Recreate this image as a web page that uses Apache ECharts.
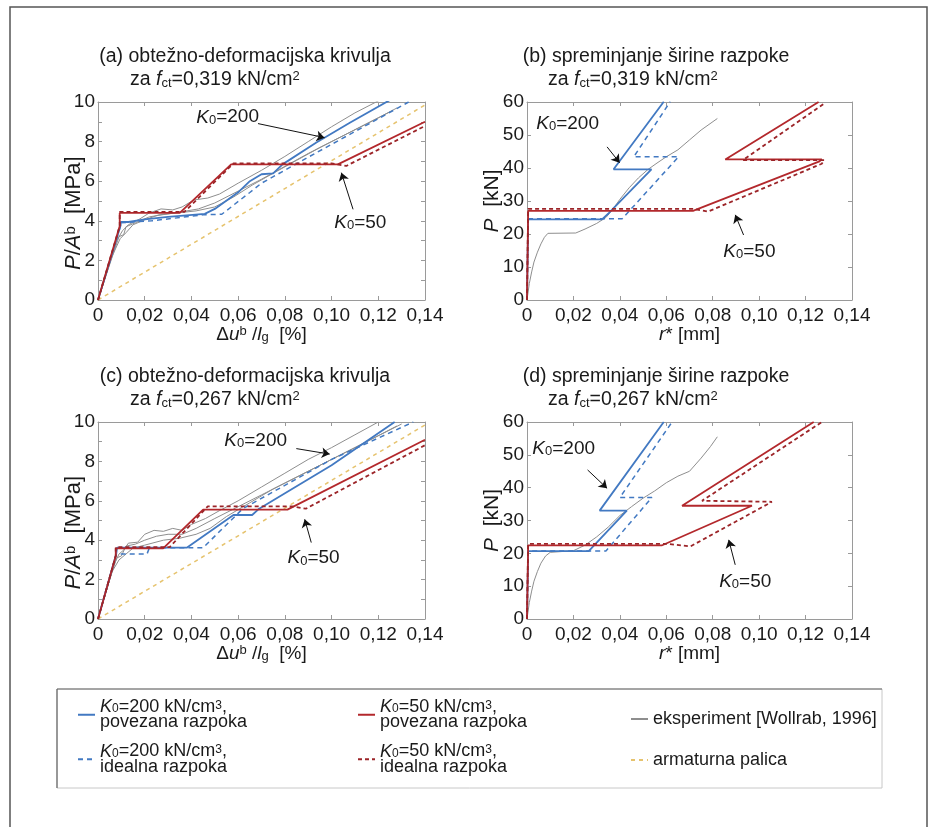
<!DOCTYPE html>
<html><head><meta charset="utf-8">
<script src="https://cdn.jsdelivr.net/npm/echarts@6/dist/echarts.min.js"></script>
<style>html,body{margin:0;padding:0;background:#fff}#c{width:933px;height:827px}</style>
</head><body><div id="c"></div>
<script>
// ---------- tick labels ----------
const xTickLabels = ['0','0,02','0,04','0,06','0,08','0,10','0,12','0,14'];
const yStressLabels = ['0','2','4','6','8','10'];
const yForceLabels = ['0','10','20','30','40','50','60'];

// ---------- panel (a): load-deformation, fct = 0,319 ----------
const a_k200_pov = [[0,0],[0.0097,3.77],[0.0097,3.94],[0.013,3.94],[0.02,4.07],[0.03,4.2],[0.0457,4.35],[0.05,4.6],[0.06,5.44],[0.065,6.0],[0.07,6.35],[0.075,6.4],[0.079,6.85],[0.0935,7.95],[0.108,8.96],[0.125,10.1]];
const a_k200_ide = [[0,0],[0.0097,3.77],[0.0097,3.9],[0.023,4.0],[0.045,4.3],[0.053,4.33],[0.065,5.43],[0.07,5.9],[0.0935,7.44],[0.133,10]];
const a_k50_pov = [[0,0],[0.0093,3.74],[0.0093,4.4],[0.035,4.4],[0.057,6.85],[0.1027,6.85],[0.14,9.0]];
const a_k50_ide = [[0,0],[0.0093,3.74],[0.0093,4.45],[0.037,4.45],[0.058,6.9],[0.1,6.9],[0.1063,6.77],[0.14,8.79]];
const a_exp1 = [[0,0],[0.004,1.5],[0.008,3.0],[0.0105,3.5],[0.013,3.8],[0.018,4.1],[0.022,4.4],[0.027,4.6],[0.032,4.55],[0.036,4.7],[0.041,5.05],[0.047,5.15],[0.052,5.35],[0.06,5.9],[0.07,6.55],[0.08,7.25],[0.09,8.0],[0.1,8.75],[0.11,9.45],[0.124,10.3]];
const a_exp2 = [[0,0],[0.005,1.8],[0.009,3.2],[0.011,3.3],[0.012,3.7],[0.016,3.9],[0.022,4.2],[0.03,4.35],[0.038,4.5],[0.043,4.6],[0.05,4.9],[0.06,5.5],[0.07,6.1],[0.08,6.75],[0.09,7.4],[0.1,8.0],[0.11,8.6],[0.12,9.2],[0.128,9.7]];
const a_exp3 = [[0,0],[0.006,2.2],[0.0095,3.1],[0.012,3.4],[0.015,3.8],[0.02,4.05],[0.026,4.3],[0.034,4.4],[0.042,4.5],[0.05,4.7],[0.058,5.2],[0.066,5.8],[0.075,6.4],[0.085,7.05],[0.095,7.7],[0.105,8.3],[0.115,8.9],[0.125,9.5]];
const a_arm = [[0,0],[0.14,9.85]];

// ---------- panel (b): crack width, fct = 0,319 ----------
const b_k200_pov = [[0,0],[0.0005,24.45],[0.0323,24.45],[0.0352,26.3],[0.0536,39.6],[0.0373,39.6],[0.0589,60.1]];
const b_k200_ide = [[0,0],[0.0005,24.6],[0.041,24.6],[0.0653,43.4],[0.046,43.4],[0.0617,60.1]];
const b_k50_pov = [[0,0],[0.0005,27],[0.0715,27],[0.126,42],[0.127,42.6],[0.0854,42.6],[0.1256,60]];
const b_k50_ide = [[0,0],[0.0005,27.6],[0.0715,27.6],[0.078,26.8],[0.127,41.3],[0.128,42.4],[0.093,42.4],[0.128,59.5]];
const b_exp = [[0,0],[0.001,5],[0.002,8.5],[0.003,11.5],[0.0045,14.5],[0.006,17],[0.0075,19],[0.009,20.2],[0.021,20.3],[0.025,21.5],[0.03,23.2],[0.034,25],[0.037,27.5],[0.04,30.5],[0.044,34],[0.048,37],[0.052,39.5],[0.056,41.5],[0.06,43.4],[0.065,45.5],[0.07,48.5],[0.075,51.5],[0.082,55]];

// ---------- panel (c): load-deformation, fct = 0,267 ----------
const c_k200_pov = [[0,0],[0.0078,3.3],[0.0082,3.62],[0.038,3.62],[0.058,5.28],[0.066,5.28],[0.069,5.6],[0.1,7.8],[0.127,10]];
const c_k200_ide = [[0,0],[0.0078,3.3],[0.021,3.3],[0.022,3.62],[0.045,3.62],[0.062,5.6],[0.1,8.1],[0.135,10]];
const c_k50_pov = [[0,0],[0.0076,3.2],[0.0076,3.59],[0.0279,3.59],[0.045,5.55],[0.0811,5.55],[0.14,9.1]];
const c_k50_ide = [[0,0],[0.0076,3.2],[0.0076,3.65],[0.0307,3.65],[0.047,5.72],[0.083,5.72],[0.089,5.6],[0.14,8.82]];
const c_exp1 = [[0,0],[0.004,1.6],[0.007,2.8],[0.009,3.3],[0.011,3.5],[0.013,3.85],[0.017,3.9],[0.02,4.3],[0.024,4.5],[0.028,4.45],[0.032,4.6],[0.036,4.5],[0.04,4.8],[0.046,5.1],[0.052,5.5],[0.06,6.0],[0.07,6.7],[0.08,7.4],[0.09,8.1],[0.1,8.7],[0.11,9.35],[0.12,10.0]];
const c_exp2 = [[0,0],[0.005,2.0],[0.008,3.1],[0.01,3.2],[0.012,3.7],[0.016,3.8],[0.02,4.0],[0.025,4.2],[0.03,4.3],[0.036,4.3],[0.042,4.6],[0.05,5.1],[0.06,5.7],[0.07,6.3],[0.08,6.9],[0.09,7.5],[0.1,8.1],[0.11,8.7],[0.12,9.3],[0.13,9.9]];
const c_exp3 = [[0,0],[0.006,2.4],[0.009,3.0],[0.012,3.3],[0.015,3.6],[0.02,3.75],[0.028,4.0],[0.035,4.1],[0.042,4.3],[0.048,4.6],[0.055,5.2],[0.065,5.9],[0.075,6.6],[0.085,7.2],[0.1,8.1],[0.115,9.0],[0.128,9.8]];
const c_arm = [[0,0],[0.14,9.85]];

// ---------- panel (d): crack width, fct = 0,267 ----------
const d_k200_pov = [[0,0],[0.0005,20.7],[0.0266,20.7],[0.029,22.5],[0.043,33],[0.0313,33],[0.0589,60]];
const d_k200_ide = [[0,0],[0.0005,20.7],[0.034,20.7],[0.0538,37],[0.040,37],[0.0625,60]];
const d_k50_pov = [[0,0],[0.0005,22.4],[0.058,22.4],[0.0969,34.5],[0.0668,34.5],[0.1235,60]];
const d_k50_ide = [[0,0],[0.0005,22.9],[0.06,22.9],[0.0704,22.1],[0.1055,35.7],[0.106,36],[0.0754,36],[0.127,60]];
const d_exp = [[0,0],[0.001,5],[0.002,8.5],[0.003,11.5],[0.0045,14.5],[0.006,17],[0.008,19.2],[0.01,20.3],[0.02,20.8],[0.025,22.5],[0.03,25],[0.035,28],[0.04,31.5],[0.045,34.2],[0.05,36.8],[0.055,39],[0.06,41.5],[0.065,43.5],[0.07,45],[0.075,49],[0.079,52.5],[0.082,55.5]];

// ---------- annotations (data coords) ----------
const ann = [
  {k200: [0.0555, 9.23], a200: [[0.0685, 8.91],[0.097, 8.2]], k50: [0.1123, 3.91], a50: [[0.1092, 4.58],[0.1042, 6.43]]},
  {k200: [0.0175, 53.5], a200: [[0.0345, 46.4],[0.0399, 41.6]], k50: [0.0958, 14.6], a50: [[0.0933, 19.7],[0.0897, 25.8]]},
  {k200: [0.0675, 9.07], a200: [[0.0849, 8.65],[0.0992, 8.37]], k50: [0.0923, 3.09], a50: [[0.0913, 3.88],[0.0885, 5.06]]},
  {k200: [0.0158, 52.0], a200: [[0.0261, 45.4],[0.0345, 39.8]], k50: [0.094, 11.4], a50: [[0.0897, 16.5],[0.0869, 24.1]]}
];

const FONT = '"Liberation Sans", Arial, Helvetica, sans-serif';
const AX = '#9a9a9a';
const TXT = '#1a1a1a';
const BLUE = '#4279c2';
const RED = '#b3282c';
const RED_D = '#9c2428';
const GRAY = '#8e8e8e';
const YEL = '#e6c36e';

const N = {
  k200p: 'K200 povezana', k200i: 'K200 idealna',
  k50p: 'K50 povezana', k50i: 'K50 idealna',
  exp: 'eksperiment', arm: 'armaturna palica'
};

const richBase = (fs, lh) => {
  const o = {
    n: {fontSize: fs, fontFamily: FONT, color: TXT},
    i: {fontSize: fs, fontFamily: FONT, color: TXT, fontStyle: 'italic'},
    sub: {fontSize: Math.round(fs*0.68), fontFamily: FONT, color: TXT, verticalAlign: 'bottom'},
    sup: {fontSize: Math.round(fs*0.68), fontFamily: FONT, color: TXT, verticalAlign: 'top'}
  };
  if (lh) Object.keys(o).forEach(k => { o[k].lineHeight = lh; });
  return o;
};

const grids = [
  {left: 98, top: 102, width: 327, height: 198},
  {left: 527, top: 102, width: 325, height: 198},
  {left: 98, top: 422, width: 327, height: 197},
  {left: 527, top: 422, width: 325, height: 197}
];

const xFmt = v => xTickLabels[Math.round(v / 0.02)] ?? '';
const yStressFmt = v => yStressLabels[Math.round(v / 2)] ?? '';
const yForceFmt = v => yForceLabels[Math.round(v / 10)] ?? '';

const xAxes = [], yAxes = [];
grids.forEach((g, gi) => {
  const force = gi % 2 === 1;
  const xName = force ? '{i|r}{n|* [mm]}' : '{n|Δ}{i|u}{sup|b}{n| /}{i|l}{sub|g}{n|  [%]}';
  const yName = force ? '{i|P}{n|  [kN]}' : '{i|P}{n|/}{i|A}{sup|b}{n|  [MPa]    }';
  const common = {
    type: 'value', gridIndex: gi, splitLine: {show: false},
    axisLine: {show: true, onZero: false, lineStyle: {color: AX, width: 1}},
    axisTick: {show: true, inside: true, length: 4, lineStyle: {color: AX}}
  };
  xAxes.push(Object.assign({}, common, {
    position: 'bottom', min: 0, max: 0.14, interval: 0.02,
    axisLabel: {show: true, fontSize: 19, color: TXT, fontFamily: FONT, margin: 6, formatter: xFmt},
    name: xName, nameLocation: 'middle', nameGap: 25, nameMoveOverlap: false,
    nameTextStyle: {rich: richBase(19)}
  }));
  xAxes.push(Object.assign({}, common, {
    position: 'top', min: 0, max: 0.14, interval: 0.02, axisLabel: {show: false}
  }));
  const yr = force ? {min: 0, max: 60, interval: 10} : {min: 0, max: 10, interval: 2};
  const minor = force ? {show: false} : {show: true, splitNumber: 2, length: 4, lineStyle: {color: AX}};
  yAxes.push(Object.assign({}, common, yr, {
    position: 'left', minorTick: minor,
    axisLabel: {show: true, fontSize: 19, color: TXT, fontFamily: FONT, margin: 3, formatter: force ? yForceFmt : yStressFmt},
    name: yName, nameLocation: 'middle', nameRotate: 90, nameGap: force ? 24 : 13, nameMoveOverlap: false,
    nameTextStyle: {rich: richBase(force ? 21 : 22)}
  }));
  yAxes.push(Object.assign({}, common, yr, {
    position: 'right', minorTick: minor, axisLabel: {show: false}
  }));
});

function line(name, data, gi, color, type, width, z) {
  return {
    type: 'line', name, data, xAxisIndex: gi * 2, yAxisIndex: gi * 2,
    symbol: 'none', showSymbol: false, silent: true, animation: false, z: z,
    lineStyle: {color, width, type}, itemStyle: {color}, emphasis: {disabled: true}
  };
}

const kRich = {
  k: {fontSize: 19, fontFamily: FONT, color: TXT, fontStyle: 'italic'},
  s: {fontSize: 13, fontFamily: FONT, color: TXT, verticalAlign: 'bottom'},
  n: {fontSize: 19, fontFamily: FONT, color: TXT}
};

function annotate(series, gi) {
  const a = ann[gi];
  series.markLine = {
    silent: true, animation: false, symbol: ['none', 'arrow'], symbolSize: 8,
    label: {show: false}, emphasis: {disabled: true},
    lineStyle: {color: '#111', width: 1, type: 'solid'},
    data: [
      [{coord: a.a200[0]}, {coord: a.a200[1]}],
      [{coord: a.a50[0]}, {coord: a.a50[1]}]
    ]
  };
  series.markPoint = {
    silent: true, animation: false, symbol: 'circle', symbolSize: 0,
    data: [
      {coord: a.k200, label: {show: true, position: 'inside', formatter: '{k|K}{s|0}{n|=200}', rich: kRich}},
      {coord: a.k50, label: {show: true, position: 'inside', formatter: '{k|K}{s|0}{n|=50}', rich: kRich}}
    ]
  };
  return series;
}

const DASH_B = [5, 4];
const DASH_R = [4, 3];
const DASH_Y = [4, 4];
const series = [];
const panels = [
  {exp: [a_exp1, a_exp2, a_exp3], arm: a_arm, bp: a_k200_pov, bi: a_k200_ide, rp: a_k50_pov, ri: a_k50_ide},
  {exp: [b_exp], arm: null, bp: b_k200_pov, bi: b_k200_ide, rp: b_k50_pov, ri: b_k50_ide},
  {exp: [c_exp1, c_exp2, c_exp3], arm: c_arm, bp: c_k200_pov, bi: c_k200_ide, rp: c_k50_pov, ri: c_k50_ide},
  {exp: [d_exp], arm: null, bp: d_k200_pov, bi: d_k200_ide, rp: d_k50_pov, ri: d_k50_ide}
];
panels.forEach((p, gi) => {
  p.exp.forEach(e => series.push(line(N.exp, e, gi, GRAY, 'solid', 1, 1)));
  if (p.arm) series.push(line(N.arm, p.arm, gi, YEL, DASH_Y, 1.5, 2));
  series.push(line(N.k200i, p.bi, gi, BLUE, DASH_B, 1.5, 3));
  series.push(line(N.k200p, p.bp, gi, BLUE, 'solid', 1.8, 4));
  series.push(annotate(line(N.k50p, p.rp, gi, RED, 'solid', 1.8, 5), gi));
  series.push(line(N.k50i, p.ri, gi, RED_D, DASH_R, 1.8, 6));
});

const LFS = 18, LLH = 15.5;
const legendRich = richBase(LFS, LLH);
legendRich.sup.lineHeight = 11;
legendRich.sub.lineHeight = 11;
const legendText = {
  [N.k200p]: '{i|K}{sub|0}{n|=200 kN/cm}{sup|3}{n|,}\n{n|povezana razpoka}',
  [N.k200i]: '{i|K}{sub|0}{n|=200 kN/cm}{sup|3}{n|,}\n{n|idealna razpoka}',
  [N.k50p]: '{i|K}{sub|0}{n|=50 kN/cm}{sup|3}{n|,}\n{n|povezana razpoka}',
  [N.k50i]: '{i|K}{sub|0}{n|=50 kN/cm}{sup|3}{n|,}\n{n|idealna razpoka}',
  [N.exp]: '{n|eksperiment [Wollrab, 1996]}',
  [N.arm]: '{n|armaturna palica}'
};
function legendCol(left, top, names, gap) {
  return {
    left, top, orient: 'vertical', itemGap: gap, itemWidth: 17, itemHeight: 8, padding: 0,
    selectedMode: false, data: names,
    itemStyle: {opacity: 0},
    formatter: nm => legendText[nm],
    textStyle: {fontSize: LFS, fontFamily: FONT, color: TXT, lineHeight: LLH, rich: legendRich, padding: 0}
  };
}

const titleRich = richBase(19.5);
function titleText(x, y, str, align) {
  return {type: 'text', x, y, silent: true, style: {text: str, rich: titleRich, font: '19.5px ' + FONT, fill: TXT, align: align, verticalAlign: 'middle'}};
}

const option = {
  backgroundColor: '#fff',
  animation: false,
  grid: grids,
  xAxis: xAxes,
  yAxis: yAxes,
  series,
  legend: [
    legendCol(77, 698, [N.k200p, N.k200i], 11),
    legendCol(357, 698, [N.k50p, N.k50i], 11),
    legendCol(630, 710, [N.exp, N.arm], 23)
  ],
  graphic: [
    {type: 'rect', silent: true, shape: {x: 10, y: 7, width: 917, height: 840}, style: {fill: 'none', stroke: '#555', lineWidth: 1.5}},
    {type: 'rect', silent: true, shape: {x: 57, y: 689, width: 825, height: 99}, style: {fill: 'none', stroke: '#c8c8c8', lineWidth: 1}},
    {type: 'line', silent: true, shape: {x1: 57, y1: 689, x2: 882, y2: 689}, style: {stroke: '#666', lineWidth: 1.2}},
    {type: 'line', silent: true, shape: {x1: 57, y1: 689, x2: 57, y2: 788}, style: {stroke: '#666', lineWidth: 1.2}},
    titleText(245, 57, '{n|(a) obtežno-deformacijska krivulja}', 'center'),
    titleText(130, 80, '{n|za }{i|f}{sub|ct}{n|=0,319 kN/cm}{sup|2}', 'left'),
    titleText(656, 57, '{n|(b) spreminjanje širine razpoke}', 'center'),
    titleText(548, 80, '{n|za }{i|f}{sub|ct}{n|=0,319 kN/cm}{sup|2}', 'left'),
    titleText(245, 377, '{n|(c) obtežno-deformacijska krivulja}', 'center'),
    titleText(130, 400, '{n|za }{i|f}{sub|ct}{n|=0,267 kN/cm}{sup|2}', 'left'),
    titleText(656, 377, '{n|(d) spreminjanje širine razpoke}', 'center'),
    titleText(548, 400, '{n|za }{i|f}{sub|ct}{n|=0,267 kN/cm}{sup|2}', 'left')
  ]
};

const chart = echarts.init(document.getElementById('c'), null, {renderer: 'canvas', width: 933, height: 827});
chart.setOption(option);
</script></body></html>
